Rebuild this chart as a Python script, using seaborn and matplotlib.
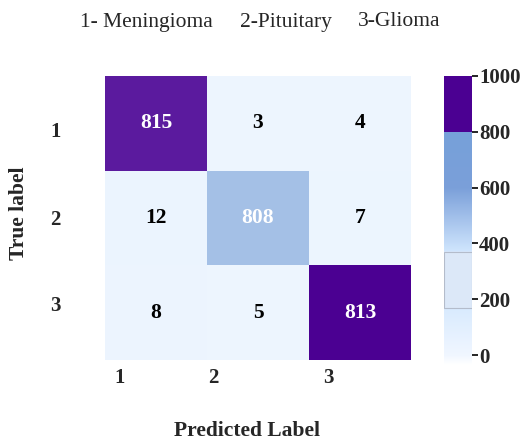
import numpy as np
import pandas as pd
import matplotlib
matplotlib.use("Agg")
import matplotlib.pyplot as plt
import seaborn as sns
from matplotlib.colors import LinearSegmentedColormap, Normalize
from matplotlib.cm import ScalarMappable
from matplotlib.patches import Rectangle

classes = ["1", "2", "3"]
row_1 = [815, 3, 4]
row_2 = [12, 808, 7]
row_3 = [8, 5, 813]
cbar_ticks = [0, 200, 400, 600, 800, 1000]
title_parts = ["1- Meningioma", "2-Pituitary", "3-Glioma"]

matrix = pd.DataFrame([row_1, row_2, row_3], index=classes, columns=classes)

vmin, vmax = -35, 1000
span = vmax - vmin
def p(v):
    return (v - vmin) / span

# colormap for the cells
cell_stops = [
    (p(-35), "#fbfdff"), (p(0), "#eef5fe"), (p(15), "#eaf4fe"),
    (p(804.9), "#eaf4fe"), (p(805), "#a4c0e6"), (p(810.9), "#a4c0e6"),
    (p(811), "#4b0092"), (p(813.9), "#4b0092"), (p(814), "#5b1a9e"),
    (p(816.9), "#5b1a9e"), (p(817), "#4b0092"), (p(1000), "#4b0092"),
]
cell_cmap = LinearSegmentedColormap.from_list("cells", cell_stops, N=8192)

# colormap shown in the colour bar
bar_stops = [
    (p(-35), "#ffffff"), (p(0), "#f0f6ff"), (p(168), "#d8eafe"),
    (p(170), "#dce8f8"), (p(370), "#dce8f8"), (p(372), "#cfe5fd"),
    (p(600), "#7a9fd9"), (p(799.5), "#76a0d9"), (p(800.5), "#4b0092"),
    (p(1000), "#4b0092"),
]
bar_cmap = LinearSegmentedColormap.from_list("bar", bar_stops, N=2048)

sns.set_theme(style="white")
plt.rcParams["font.family"] = ["Liberation Serif", "DejaVu Serif"]

fig = plt.figure(figsize=(5.27, 4.4), dpi=100)
ax = fig.add_axes([0.1992, 0.1818, 0.5806, 0.6455])
cax = fig.add_axes([0.8425, 0.1705, 0.0531, 0.657])

norm = Normalize(vmin=vmin, vmax=vmax)
sns.heatmap(matrix, ax=ax, cmap=cell_cmap, vmin=vmin, vmax=vmax, cbar=False,
            annot=True, fmt="d", annot_kws={"fontsize": 15.5, "fontweight": "bold"},
            linewidths=0)
vals = matrix.values.flatten()
for t, v in zip(ax.texts, vals):
    t.set_color("white" if v > 500 else "black")

ax.set_xticks([0.14, 1.06, 2.19])
ax.set_xticklabels(classes, fontsize=15, fontweight="bold", rotation=0)
ax.set_yticks([0.59, 1.52, 2.43])
ax.set_yticklabels(classes, fontsize=15, fontweight="bold", rotation=0)
ax.tick_params(axis="x", length=0, pad=6)
ax.tick_params(axis="y", length=0, pad=32)
ax.set_xlabel("Predicted Label", fontsize=15.5, fontweight="bold")
ax.xaxis.set_label_coords(0.464, -0.215)
ax.set_ylabel("True label", fontsize=15.5, fontweight="bold")
ax.yaxis.set_label_coords(-0.249, 0.518)

sm = ScalarMappable(norm=norm, cmap=bar_cmap)
cb = fig.colorbar(sm, cax=cax)
cb.set_ticks(cbar_ticks)
cb.outline.set_visible(False)
cax.tick_params(axis="y", length=4, width=1.2, pad=1, labelsize=15, color="black")
for lab in cax.get_yticklabels():
    lab.set_fontweight("bold")
cax.add_patch(Rectangle((0, 170), 1, 200, facecolor="none",
                        edgecolor="#b4bccb", lw=0.8, transform=cax.transData))

for txt, xpos in zip(title_parts, [0.1518, 0.4554, 0.6793]):
    fig.text(xpos, 0.95, txt, ha="left", va="center", fontsize=15.5)

fig.savefig("out.png", dpi=100)
